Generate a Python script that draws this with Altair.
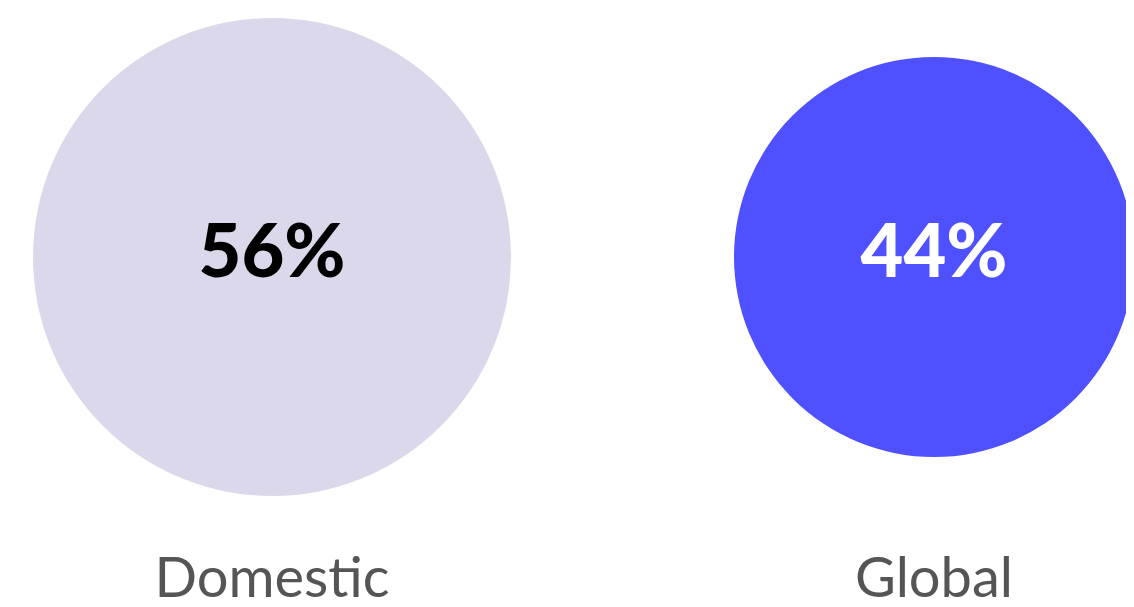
import altair as alt
import pandas as pd

categories = ["Domestic", "Global"]
shares = [56, 44]
share_labels = ["56%", "44%"]

circle_colors = ["#DBD8EC", "#4F50FF"]
text_colors = ["#000000", "#FFFFFF"]

df = pd.DataFrame({"category": categories, "share": shares, "label": share_labels})

x_enc = alt.X("category:N", sort=categories, axis=None,
              scale=alt.Scale(type="point", range=[264, 926], padding=0))

base = alt.Chart(df)

# Vega circle size = diameter^2
circles = base.mark_circle(opacity=1).encode(
    x=x_enc,
    y=alt.value(249),
    size=alt.Size("share:Q", legend=None,
                  scale=alt.Scale(domain=[44, 56], range=[400 ** 2, 478 ** 2])),
    color=alt.Color("category:N", legend=None,
                    scale=alt.Scale(domain=categories, range=circle_colors)),
)

pct = base.mark_text(font="Lato", fontSize=74, fontWeight=900, baseline="middle", dy=-2).encode(
    x=x_enc,
    y=alt.value(249),
    text="label:N",
    color=alt.Color("category:N", legend=None,
                    scale=alt.Scale(domain=categories, range=text_colors)),
)

names = base.mark_text(font="Lato", fontSize=56, fontWeight=400, baseline="alphabetic",
                       color="#555555").encode(
    x=x_enc,
    y=alt.value(589),
    text="category:N",
)

chart = alt.layer(circles, pct, names).resolve_scale(color="independent").properties(
    width=1118, height=591, padding=0,
    autosize=alt.AutoSizeParams(type="none"),
).configure_view(stroke=None)

chart.save("out.html", embed_options={"renderer": "svg", "actions": False})
